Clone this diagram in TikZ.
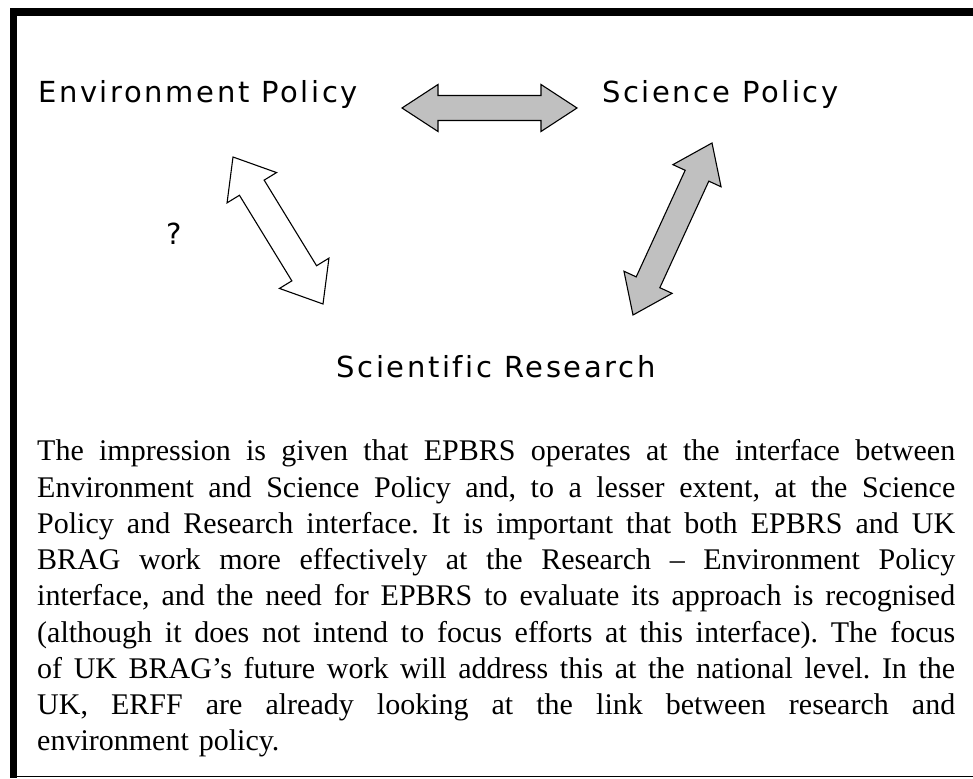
\documentclass[tikz,border=0pt]{standalone}
\usepackage{fontspec}
\setmainfont{Liberation Serif}
\newfontfamily\headfont[LetterSpace=9,Ligatures=NoCommon]{DejaVu Sans}
\usetikzlibrary{calc}
\definecolor{arrowgray}{HTML}{C0C0C0}
\frenchspacing

\tikzset{
  heading/.style={font=\headfont\fontsize{29}{34}\selectfont, inner sep=0pt},
  blockarrow/.style={draw, line width=1.1pt, line join=miter},
  bodytext/.style={text width=918pt, inner sep=0pt, align=left,
    font=\fontsize{30}{36.25}\selectfont},
}

% double block arrow: from, to, fill, head half width, shaft half width
\newcommand\dblblock[5]{%
  \draw[blockarrow, fill=#3] (#1)
    -- ($(#1)!36pt!(#2)!#4!90:(#2)$) -- ($(#1)!36pt!(#2)!#5!90:(#2)$)
    -- ($(#2)!36pt!(#1)!#5!-90:(#1)$) -- ($(#2)!36pt!(#1)!#4!-90:(#1)$)
    -- (#2)
    -- ($(#2)!36pt!(#1)!#4!90:(#1)$) -- ($(#2)!36pt!(#1)!#5!90:(#1)$)
    -- ($(#1)!36pt!(#2)!#5!-90:(#2)$) -- ($(#1)!36pt!(#2)!#4!-90:(#2)$)
    -- cycle;}
\newcommand\just[1]{\noindent\hbox to 918pt{\spaceskip=0pt\xspaceskip=0pt #1}}

\begin{document}
\begin{tikzpicture}[x=1pt,y=-1pt]
\useasboundingbox (0,0) rectangle (973,778);
% frame
\fill (10,8) rectangle (973,16);
\fill (10,8) rectangle (17,778);
\draw[line width=1pt] (17,776.5) -- (973,776.5);

\node[heading, anchor=base west] (env) at (38,103) {Environment Policy};
\node[heading, anchor=base west] (sci) at (602,103) {Science Policy};
\node[heading, anchor=base] (res) at (496,377) {Scientific Research};
\node[heading, anchor=base] (qm) at (174,244) {?};

% arrow ends
\coordinate (es1) at (402,108);
\coordinate (es2) at (577,108);
\coordinate (er1) at (233,157);
\coordinate (er2) at (323,304);
\coordinate (sr1) at (712,143);
\coordinate (sr2) at (633,315);

\dblblock{es1}{es2}{arrowgray}{23.5pt}{12.5pt}
\dblblock{er1}{er2}{white}{29pt}{14.5pt}
\dblblock{sr1}{sr2}{arrowgray}{26.5pt}{13pt}

\node[bodytext, anchor=north west] (txt) at (37,439.5) {%
\just{The impression is given that EPBRS operates at the interface between}\\
\just{Environment and Science Policy and, to a lesser extent, at the Science}\\
\just{Policy and Research interface. It is important that both EPBRS and UK}\\
\just{BRAG work more effectively at the Research – Environment Policy}\\
\just{interface, and the need for EPBRS to evaluate its approach is recognised}\\
\just{(although it does not intend to focus efforts at this interface). The focus}\\
\just{of UK BRAG’s future work will address this at the national level. In the}\\
\just{UK, ERFF are already looking at the link between research and}\\
environment policy.};
\end{tikzpicture}
\end{document}
